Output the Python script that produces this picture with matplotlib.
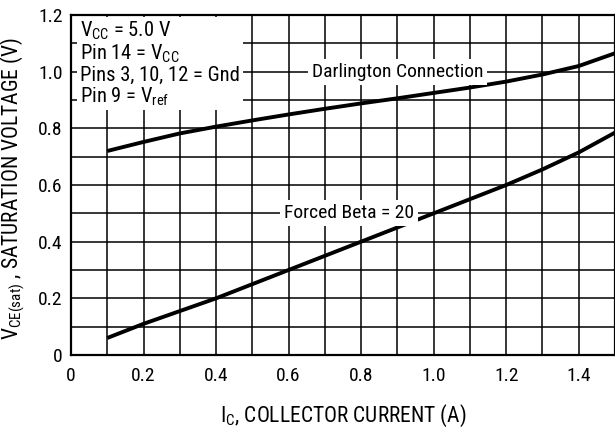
import matplotlib
matplotlib.use("Agg")
import matplotlib.pyplot as plt
from matplotlib import font_manager

# data
ic = [0.1, 0.2, 0.3, 0.4, 0.5, 0.6, 0.7, 0.8, 0.9, 1.0, 1.1, 1.2, 1.3, 1.4, 1.5]
v_darlington = [0.72, 0.752, 0.782, 0.806, 0.828, 0.849, 0.869, 0.888, 0.906, 0.925, 0.944, 0.965, 0.99, 1.02, 1.065]
v_beta20 = [0.06, 0.11, 0.155, 0.20, 0.25, 0.30, 0.35, 0.40, 0.45, 0.50, 0.55, 0.60, 0.655, 0.715, 0.785]
xticks = [0, 0.2, 0.4, 0.6, 0.8, 1.0, 1.2, 1.4]
xticklabels = ["0", "0.2", "0.4", "0.6", "0.8", "1.0", "1.2", "1.4"]
yticks = [0, 0.2, 0.4, 0.6, 0.8, 1.0, 1.2]
yticklabels = ["0", "0.2", "0.4", "0.6", "0.8", "1.0", "1.2"]
conditions = [r"V$_{\mathregular{CC}}$ = 5.0 V",
              r"Pin 14 = V$_{\mathregular{CC}}$",
              "Pins 3, 10, 12 = Gnd",
              r"Pin 9 = V$_{\mathregular{ref}}$"]

fonts = font_manager.fontManager.ttflist
names = {f.name for f in fonts}
fam = "DejaVu Sans"
for cand in ["Liberation Sans Narrow", "Roboto Condensed", "Open Sans Condensed", "DejaVu Sans Condensed"]:
    if cand in names:
        fam = cand
        break
plt.rcParams['font.family'] = [fam, 'DejaVu Sans']
plt.rcParams['mathtext.fontset'] = 'custom'
plt.rcParams['mathtext.rm'] = fam
fs = 14

fig = plt.figure(figsize=(6.15, 4.29), dpi=100)
ax = fig.add_axes([0.1154, 0.1725, 0.8846, 0.7925])

ax.set_xlim(0, 1.5)
ax.set_ylim(0, 1.2)
for v in [i / 10 for i in range(1, 15)]:
    ax.axvline(v, color='k', lw=1.1, zorder=1)
for v in [i / 10 for i in range(1, 12)]:
    ax.axhline(v, color='k', lw=1.1, zorder=1)

ax.plot(ic, v_darlington, color='k', lw=2.8, zorder=3, solid_capstyle='butt')
ax.plot(ic, v_beta20, color='k', lw=2.8, zorder=3, solid_capstyle='butt')

ax.set_xticks(xticks)
ax.set_xticklabels(xticklabels)
ax.set_yticks(yticks)
ax.set_yticklabels(yticklabels)
ax.tick_params(axis='x', length=0, labelsize=fs, pad=9)
ax.tick_params(axis='y', length=0, labelsize=fs, pad=6)
for s in ax.spines.values():
    s.set_linewidth(1.6)

ax.text(0.9, 1.0, "Darlington Connection", ha='center', va='center', fontsize=fs,
        zorder=4, bbox=dict(facecolor='white', edgecolor='none', pad=3))
ax.text(0.766, 0.5, "Forced Beta = 20", ha='center', va='center', fontsize=fs,
        zorder=4, bbox=dict(facecolor='white', edgecolor='none', pad=3))

ax.text(0.025, 1.183, "\n".join(conditions), ha='left', va='top', fontsize=fs + 0.8,
        linespacing=1.02, zorder=4,
        bbox=dict(facecolor='white', edgecolor='none', pad=2))

ax.set_xlabel(r"I$_{\mathregular{C}}$, COLLECTOR CURRENT (A)", fontsize=15.5)
ax.set_ylabel(r"V$_{\mathregular{CE(sat)}}$ , SATURATION VOLTAGE (V)", fontsize=15.5)
ax.xaxis.set_label_coords(0.5, -0.14)
ax.yaxis.set_label_coords(-0.08, 0.49)

fig.savefig("out.png", dpi=100)
